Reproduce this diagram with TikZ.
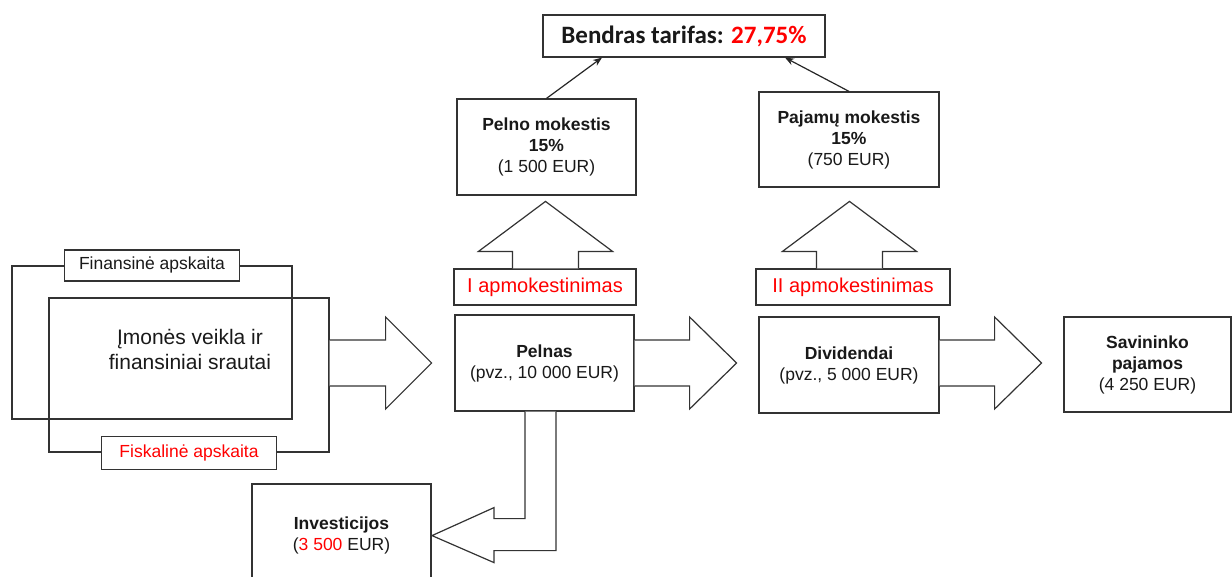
\documentclass[tikz,border=0pt]{standalone}
\usepackage{fontspec}
\setmainfont{Liberation Sans}
\newfontfamily\calibri{Carlito}
\usetikzlibrary{arrows.meta, calc, positioning}
\tikzstyle{box} = [rectangle, draw=black!80, line width=1.2pt, fill=white, text=black!90, text centered, align=center, inner sep=0pt, font=\fontsize{17.5}{21}\selectfont]
\tikzstyle{frame} = [rectangle, draw=black!80, line width=1.2pt, inner sep=0pt]
\tikzstyle{taxbox} = [box, minimum height=36pt, text=red, font=\fontsize{20}{24}\selectfont]
\tikzstyle{blockarrow} = [draw=black!80, line width=1.2pt, fill=white, line join=miter]
\tikzstyle{thinarrow} = [draw=black!85, line width=1.2pt, -{Stealth[length=9pt,width=7pt]}]

\begin{document}
\begin{tikzpicture}[x=1pt, y=-1pt]
\useasboundingbox (0,0) rectangle (1232,576);
\clip (0,0) rectangle (1232,576);
\node (tarifas) [box, minimum width=282pt, minimum height=42pt, font=\calibri\bfseries\fontsize{25}{30}\selectfont] at (684,36) {Bendras tarifas: \textcolor{red}{27,75\%}};
\node (pelnomok) [box, minimum width=179pt, minimum height=96pt] at (546.5,147) {\textbf{Pelno mokestis}\\\textbf{15\%}\\(1 500 EUR)};
\node (pajmok) [box, minimum width=180pt, minimum height=95pt] at (849,139.5) {\textbf{Pajamų mokestis}\\\textbf{15\%}\\(750 EUR)};
\node (apm1) [taxbox, minimum width=182pt] at (545,287) {I apmokestinimas};
\node (apm2) [taxbox, minimum width=194pt] at (853,287) {II apmokestinimas};
\node (pelnas) [box, minimum width=179pt, minimum height=96pt] at (544.5,363) {\textbf{Pelnas}\\(pvz., 10 000 EUR)};
\node (dividendai) [box, minimum width=180pt, minimum height=96pt] at (849,365) {\textbf{Dividendai}\\(pvz., 5 000 EUR)};
\node (savininko) [box, minimum width=167pt, minimum height=95pt] at (1147.5,364.5) {\textbf{Savininko}\\\textbf{pajamos}\\(4 250 EUR)};
\node (investicijos) [box, minimum width=179pt, minimum height=102pt] at (341.5,535) {\textbf{Investicijos}\\(\textcolor{red}{3 500} EUR)};

% the two accounting frames
\node (finrect) [frame, minimum width=280pt, minimum height=153pt] at (152,342.5) {};
\node (fisrect) [frame, minimum width=280pt, minimum height=154pt] at (189,375) {};
\node (veikla) [align=center, text=black!90, font=\fontsize{21}{25}\selectfont] at (190,349) {Įmonės veikla ir\\finansiniai srautai};
\node (finlabel) [box, minimum width=175pt, minimum height=31pt] at (finrect.north) {Finansinė apskaita};
\node (fislabel) [box, minimum width=175pt, minimum height=33pt, text=red] at (fisrect.south) {Fiskalinė apskaita};

\draw [thinarrow] (pelnomok.north) -- ([xshift=-82pt]tarifas.south);
\draw [thinarrow] (pajmok.north) -- ([xshift=101pt]tarifas.south);

% big arrows to the right
\draw [blockarrow] (fisrect.east |- pelnas.west) ++(0,-23) -- ++(56,0) -- ++(0,-23) -- ++(46,46) -- ++(-46,46) -- ++(0,-23) -- ++(-56,0);
\draw [blockarrow] (pelnas.east) ++(0,-23) -- ++(55,0) -- ++(0,-23) -- ++(47,46) -- ++(-47,46) -- ++(0,-23) -- ++(-55,0);
\draw [blockarrow] (dividendai.east |- pelnas.east) ++(0,-23) -- ++(55,0) -- ++(0,-23) -- ++(47,46) -- ++(-47,46) -- ++(0,-23) -- ++(-55,0);

% big arrows up
\draw [blockarrow] (apm1.north) ++(-32.5,0) -- ++(0,-17) -- ++(-34,0) -- ++(67,-50) -- ++(67,50) -- ++(-34,0) -- ++(0,17);
\draw [blockarrow] (apm2.north -| pajmok.north) ++(-32.5,0) -- ++(0,-17) -- ++(-34,0) -- ++(67,-50) -- ++(67,50) -- ++(-34,0) -- ++(0,17);

% bent arrow down to the investments
\draw [blockarrow] ($(pelnas.south)+(11.5,0)$) -- ++(0,139) -- ++(-62,0) -- ++(0,12) -- ++(-62,-27) -- ++(62,-28) -- ++(0,11) -- ++(31,0) -- ++(0,-107);
\end{tikzpicture}
\end{document}
